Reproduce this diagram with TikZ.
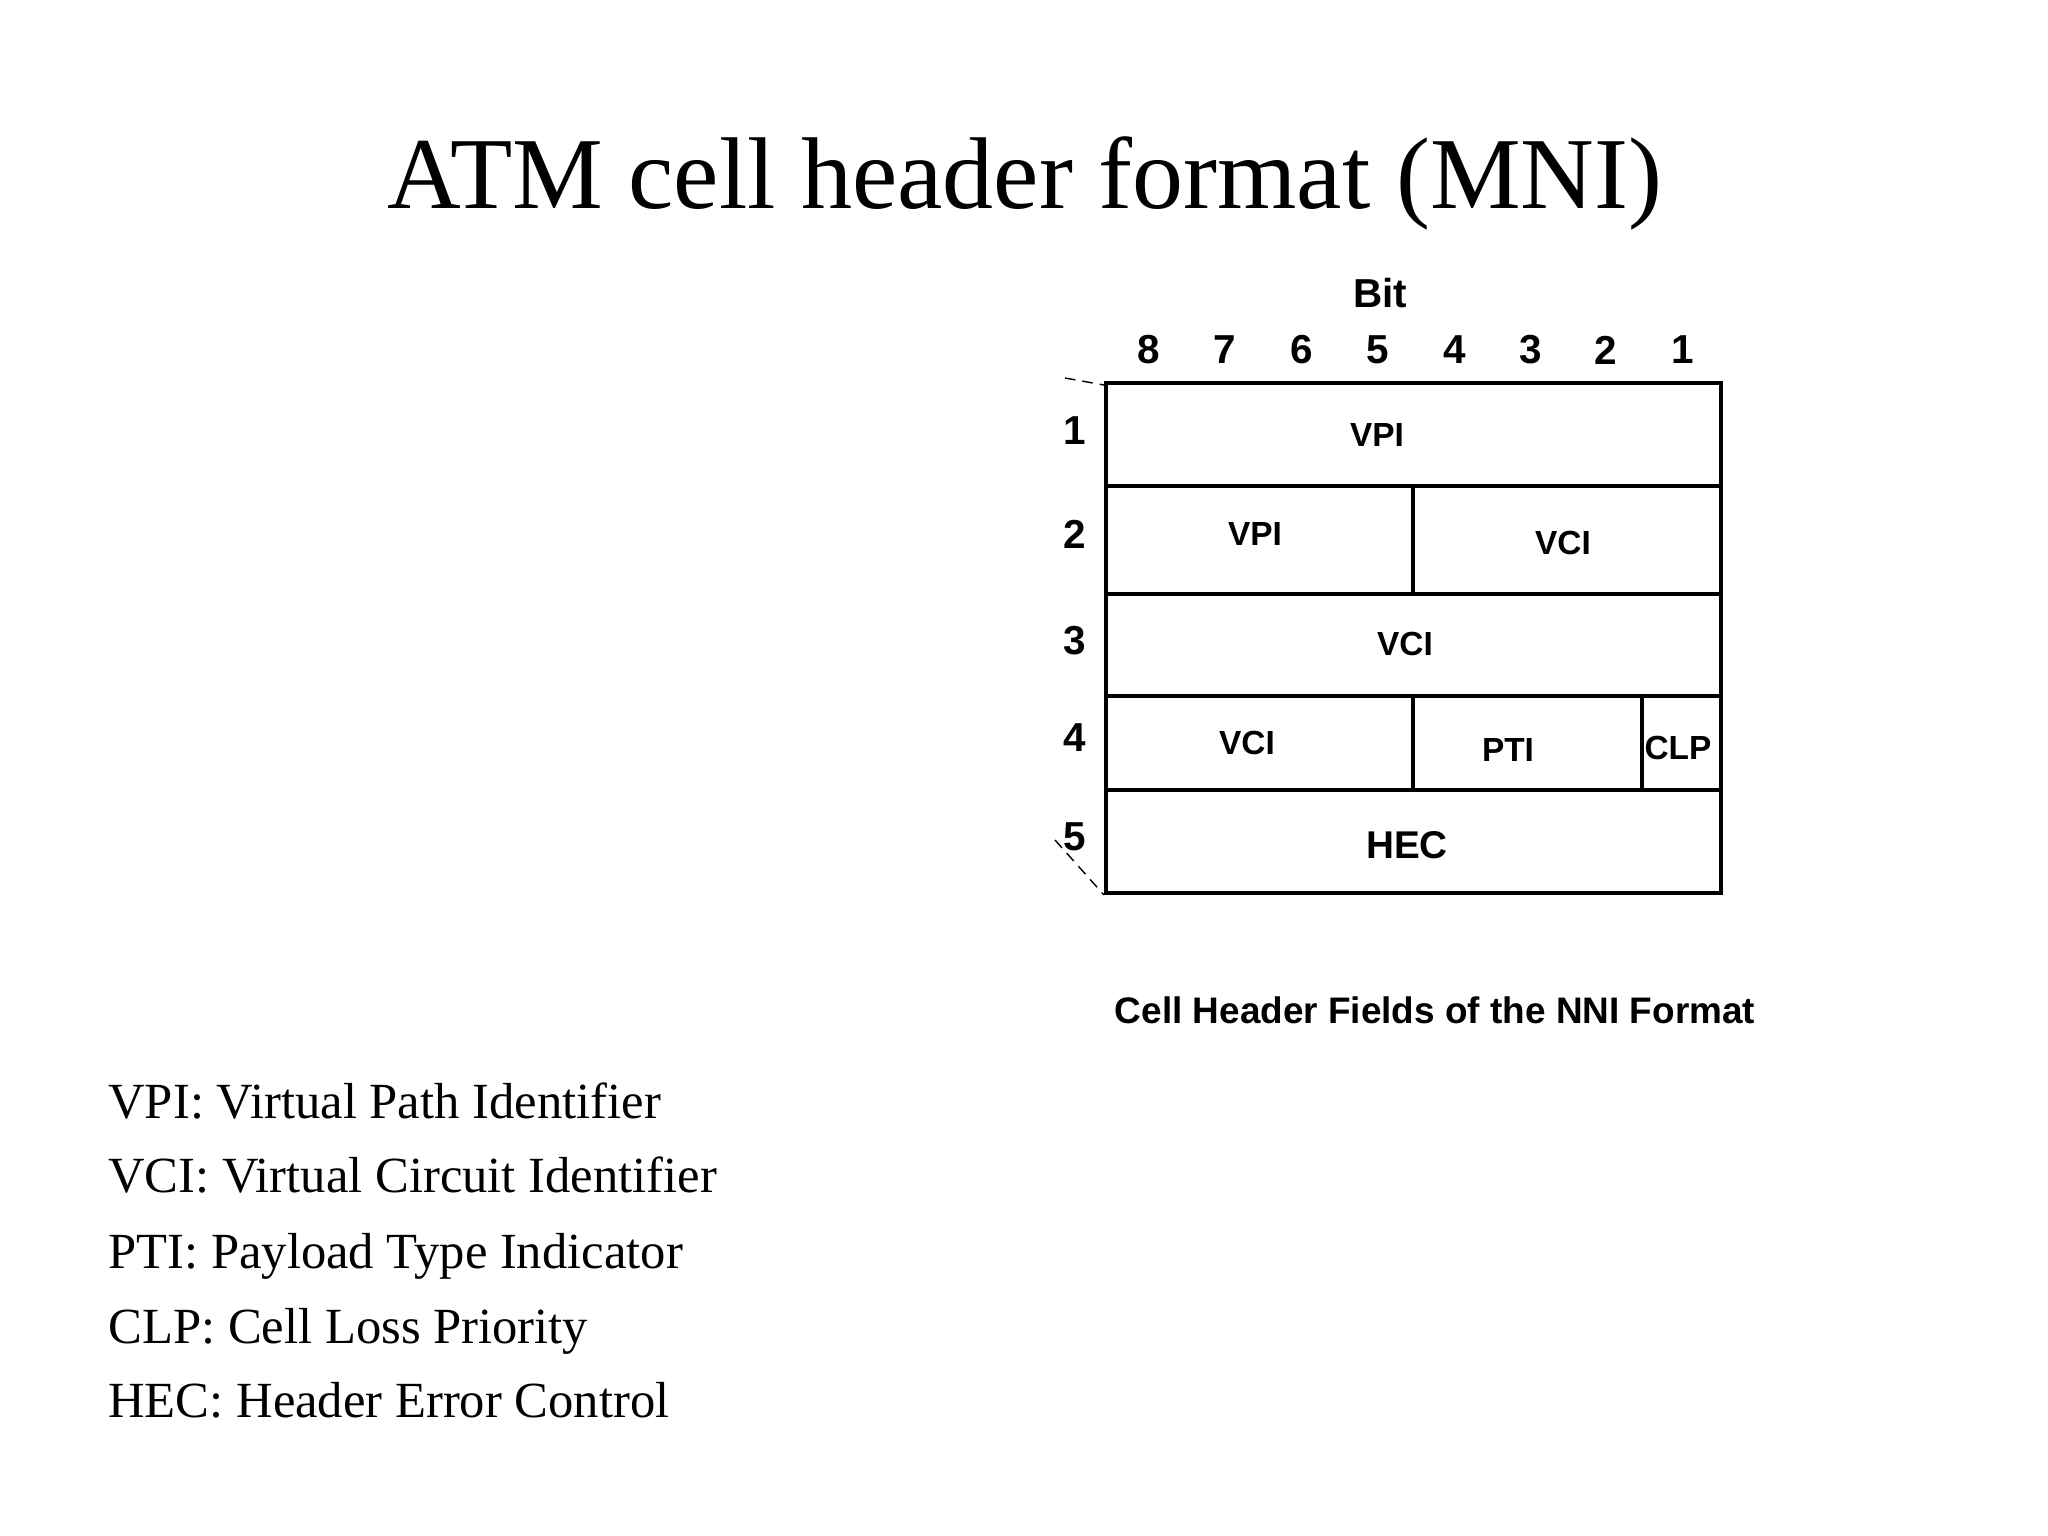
\documentclass[tikz,border=0pt]{standalone}
\usepackage{fontspec}
\setmainfont{Liberation Serif}
\setsansfont{Liberation Sans}
\begin{document}
\begin{tikzpicture}[x=0.01cm,y=-0.01cm,
  lab/.style={font=\sffamily\bfseries\fontsize{9.5}{11}\selectfont},
  num/.style={font=\sffamily\bfseries\fontsize{11.5}{13}\selectfont},
  leg/.style={anchor=west,text height=0.7em,text depth=0.25em,font=\fontsize{14.4}{17}\selectfont},
  cell/.style={draw,line width=0.9pt}]
\useasboundingbox (0,0) rectangle (2048,1536);
\node (title) at (1025,183) {\fontsize{29}{34}\selectfont ATM cell header format (MNI)};
\node[num] (bit) at (1380,293) {Bit};
\foreach \x/\n in {1149/8,1225/7,1302/6,1378/5,1455/4,1531/3,1606/2,1683/1}
  \node[num] (b\n) at (\x,350) {\n};
\foreach \y/\n in {431/1,534/2,641/3,738/4,837/5}
  \node[num] (r\n) at (1075,\y) {\n};
\draw[cell] (1106,383) rectangle (1721,893);
\draw[cell] (1106,486) -- (1721,486);
\draw[cell] (1106,594) -- (1721,594);
\draw[cell] (1106,696) -- (1721,696);
\draw[cell] (1106,790) -- (1721,790);
\draw[cell] (1413,486) -- (1413,594);
\draw[cell] (1413,696) -- (1413,790);
\draw[cell] (1642,696) -- (1642,790);
\draw[densely dashed,thin] (1065,378) -- (1104,385);
\draw[densely dashed,thin] (1055,840) -- (1104,895);
\node[lab] (vpi1) at (1377,435) {VPI};
\node[lab] (vpi2) at (1255,534) {VPI};
\node[lab] (vci2) at (1563,543) {VCI};
\node[lab] (vci3) at (1405,644) {VCI};
\node[lab] (vci4) at (1247,743) {VCI};
\node[lab] (pti) at (1508,750) {PTI};
\node[lab] (clp) at (1678,748) {CLP};
\node[lab,font=\sffamily\bfseries\fontsize{11}{13}\selectfont] (hec) at (1407,845) {HEC};
\node[lab,font=\sffamily\bfseries\fontsize{10.5}{12}\selectfont] (cap) at (1435,1010) {Cell Header Fields of the NNI Format};
\node[leg] (l1) at (96,1111) {VPI: Virtual Path Identifier};
\node[leg] (l2) at (96,1185) {VCI: Virtual Circuit Identifier};
\node[leg] (l3) at (96,1261) {PTI: Payload Type Indicator};
\node[leg] (l4) at (96,1336) {CLP: Cell Loss Priority};
\node[leg] (l5) at (96,1410) {HEC: Header Error Control};
\end{tikzpicture}
\end{document}
